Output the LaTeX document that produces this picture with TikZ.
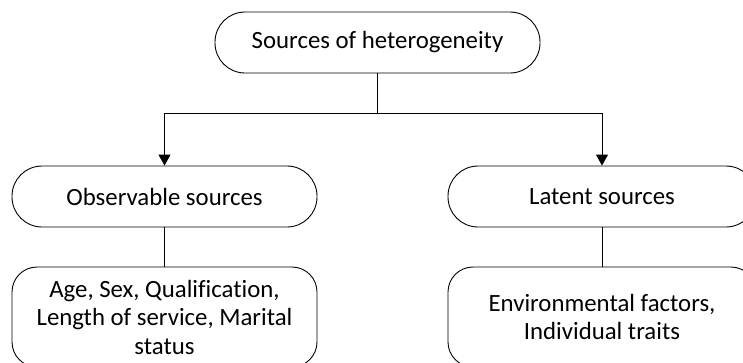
\documentclass[tikz,border=0pt]{standalone}
\usepackage{fontspec}
\setmainfont{Carlito}[Ligatures=NoCommon]
\usepackage{tikz}
\usetikzlibrary{arrows.meta}

\begin{document}
\begin{tikzpicture}[x=1pt, y=-1pt, line width=0.9pt,
		pill/.style={draw, rectangle, rounded corners=30pt, minimum height=61pt, align=center},
		itembox/.style={draw, rectangle, rounded corners=25pt, minimum height=100pt, align=center},
		link/.style={-{Triangle[width=12pt, length=11pt]}}]
	\useasboundingbox (0,0) rectangle (743,362);
	\clip (0,0) rectangle (743,362);
	\fontsize{24.8}{28.5}\selectfont
		\node[pill, minimum width=325pt] (src) at (377.5,42.5) {Sources of heterogeneity};
		\node[pill, minimum width=305pt] (obs) at (164.5,196.5) {Observable sources};
		\node[pill, minimum width=308pt] (lat) at (602,196.5) {Latent sources};
		\node[itembox, minimum width=305pt] (obs-items) at (164.5,317) {Age, Sex, Qualification,\\Length of service, Marital\\status};
		\node[itembox, minimum width=308pt] (lat-items) at (602,317) {Environmental factors,\\Individual traits};
		\coordinate (split) at (377.5,113.5);
		\draw (src) -- (split);
		\draw[link] (split) -| (obs);
		\draw[link] (split) -| (lat);
		\draw (obs) -- (obs-items);
		\draw (lat) -- (lat-items);
	\end{tikzpicture}
\end{document}
